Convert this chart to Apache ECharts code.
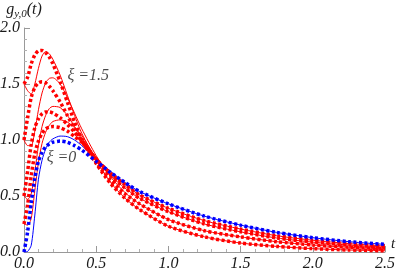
<!DOCTYPE html>
<html>
<head>
<meta charset="utf-8">
<script src="https://cdn.jsdelivr.net/npm/echarts@6/dist/echarts.min.js"></script>
<style>
html,body{margin:0;padding:0;background:#fff;}
#chart{width:399px;height:273px;}
</style>
</head>
<body>
<div id="chart"></div>
<script>
// time samples
var T = [0, 0.025, 0.05, 0.075, 0.1, 0.125, 0.15, 0.175, 0.2, 0.25, 0.3, 0.35, 0.4, 0.5, 0.6, 0.7, 0.8, 1.0, 1.25, 1.5, 1.75, 2.0, 2.25, 2.5];

// xi = 0 (blue)
var xi0Solid  = [0, 0.005, 0.06, 0.33, 0.65, 0.82, 0.92, 0.98, 1.01, 1.035, 1.03, 1.0, 0.95, 0.83, 0.72, 0.62, 0.54, 0.43, 0.32, 0.24, 0.175, 0.128, 0.092, 0.068];
var xi0Dotted = [0, 0.18, 0.44, 0.66, 0.81, 0.89, 0.94, 0.965, 0.98, 0.99, 0.98, 0.95, 0.91, 0.81, 0.71, 0.62, 0.54, 0.43, 0.32, 0.24, 0.175, 0.128, 0.092, 0.068];
// xi = 0.25
var xi025Solid  = [0.25, 0.24, 0.30, 0.55, 0.80, 0.97, 1.07, 1.13, 1.165, 1.18, 1.16, 1.11, 1.04, 0.84, 0.70, 0.60, 0.51, 0.39, 0.28, 0.205, 0.145, 0.105, 0.075, 0.053];
var xi025Dotted = [0.25, 0.42, 0.68, 0.88, 0.99, 1.06, 1.10, 1.115, 1.12, 1.11, 1.08, 1.03, 0.98, 0.83, 0.70, 0.60, 0.51, 0.39, 0.28, 0.205, 0.145, 0.105, 0.075, 0.053];
// xi = 0.5
var xi05Solid  = [0.5, 0.47, 0.52, 0.72, 0.95, 1.12, 1.22, 1.28, 1.30, 1.29, 1.22, 1.12, 1.02, 0.84, 0.68, 0.57, 0.48, 0.36, 0.25, 0.18, 0.125, 0.088, 0.062, 0.043];
var xi05Dotted = [0.5, 0.72, 0.96, 1.11, 1.19, 1.235, 1.25, 1.25, 1.24, 1.20, 1.14, 1.07, 0.99, 0.83, 0.68, 0.57, 0.48, 0.36, 0.25, 0.18, 0.125, 0.088, 0.062, 0.043];
// xi = 1.0
var xi1Solid  = [1.0, 0.95, 0.95, 1.08, 1.27, 1.42, 1.51, 1.55, 1.555, 1.50, 1.38, 1.24, 1.10, 0.86, 0.67, 0.53, 0.43, 0.29, 0.19, 0.135, 0.092, 0.062, 0.042, 0.028];
var xi1Dotted = [1.0, 1.2, 1.38, 1.47, 1.51, 1.52, 1.51, 1.48, 1.44, 1.34, 1.22, 1.10, 0.99, 0.80, 0.64, 0.52, 0.43, 0.29, 0.19, 0.135, 0.092, 0.062, 0.042, 0.028];
// xi = 1.5
var xi15Solid  = [1.5, 1.44, 1.41, 1.50, 1.64, 1.75, 1.79, 1.77, 1.72, 1.58, 1.40, 1.22, 1.06, 0.82, 0.62, 0.48, 0.38, 0.23, 0.135, 0.08, 0.05, 0.03, 0.018, 0.011];
var xi15Dotted = [1.5, 1.56, 1.68, 1.76, 1.795, 1.80, 1.78, 1.74, 1.68, 1.52, 1.34, 1.16, 1.01, 0.79, 0.61, 0.48, 0.38, 0.23, 0.135, 0.08, 0.05, 0.03, 0.018, 0.011];

// annotation labels (data coordinates)
var labelTexts = ['ξ =1.5', 'ξ =0'];
var labelPos = [[0.445, 1.575], [0.26, 0.84]];

var xTicks = [0, 0.5, 1.0, 1.5, 2.0, 2.5];
var yTicks = [0, 0.5, 1.0, 1.5, 2.0];

var RED = '#ff0000', BLUE = '#0000ff';
function pts(ys){ return T.map(function(t,i){ return [t, ys[i]]; }); }
function solid(ys, c){
  return {type:'line', data:pts(ys), showSymbol:false, symbol:'none', smooth:0.25,
    lineStyle:{color:c, width:1}, silent:true, z:2};
}
function dotted(ys, c){
  return {type:'line', data:pts(ys), showSymbol:false, symbol:'none', smooth:0.25,
    lineStyle:{color:c, width:3.5, type:[3,2.5], cap:'butt'}, silent:true, z:3};
}
var serif = '"Liberation Serif", "DejaVu Serif", serif';
var TXT = '#1a1a1a';
var series = [
  solid(xi15Solid, RED), solid(xi1Solid, RED), solid(xi05Solid, RED), solid(xi025Solid, RED), solid(xi0Solid, BLUE),
  dotted(xi15Dotted, RED), dotted(xi1Dotted, RED), dotted(xi05Dotted, RED), dotted(xi025Dotted, RED), dotted(xi0Dotted, BLUE),
  {type:'scatter', symbolSize:0, silent:true, z:5,
   data: labelPos.map(function(p,i){ return {value:p, name:labelTexts[i]}; }),
   label:{show:true, position:'inside', formatter:function(p){return p.name;},
     fontFamily:serif, fontStyle:'italic', fontSize:16, color:TXT}}
];

var chart = echarts.init(document.getElementById('chart'), null, {renderer:'canvas'});
var axisCommon = {
  axisLine:{show:true, lineStyle:{color:'#999', width:1}},
  axisTick:{show:true, inside:true, length:6, lineStyle:{color:'#999'}},
  minorTick:{show:true, splitNumber:5, length:3, lineStyle:{color:'#b0b0b0'}},
  splitLine:{show:false},
  axisLabel:{fontFamily:serif, fontStyle:'italic', fontSize:16, color:TXT, margin:4,
    formatter:function(v){ return v.toFixed(1); }}
};
chart.setOption({
  animation:false,
  backgroundColor:'#fff',
  grid:{left:24, right:14, top:28, bottom:21, containLabel:false, outerBoundsMode:'none'},
  xAxis: Object.assign({type:'value', min:xTicks[0], max:xTicks[xTicks.length-1], interval:0.5,
    name:'t', nameLocation:'end', nameGap:6,
    nameTextStyle:{fontFamily:serif, fontStyle:'italic', fontSize:15, color:TXT, verticalAlign:'bottom'}}, axisCommon),
  yAxis: Object.assign({type:'value', min:yTicks[0], max:yTicks[yTicks.length-1], interval:0.5,
    name:'{g|g}{s|y,0}{g|(t)}', nameLocation:'end', nameGap:8,
    nameTextStyle:{fontFamily:serif, fontStyle:'italic', color:TXT,
      rich:{g:{fontFamily:serif, fontStyle:'italic', fontSize:16, color:TXT},
            s:{fontFamily:serif, fontStyle:'italic', fontSize:11, color:TXT, verticalAlign:'bottom', padding:[9,0,0,0]}}}}, axisCommon),
  series: series
});
</script>
</body>
</html>
